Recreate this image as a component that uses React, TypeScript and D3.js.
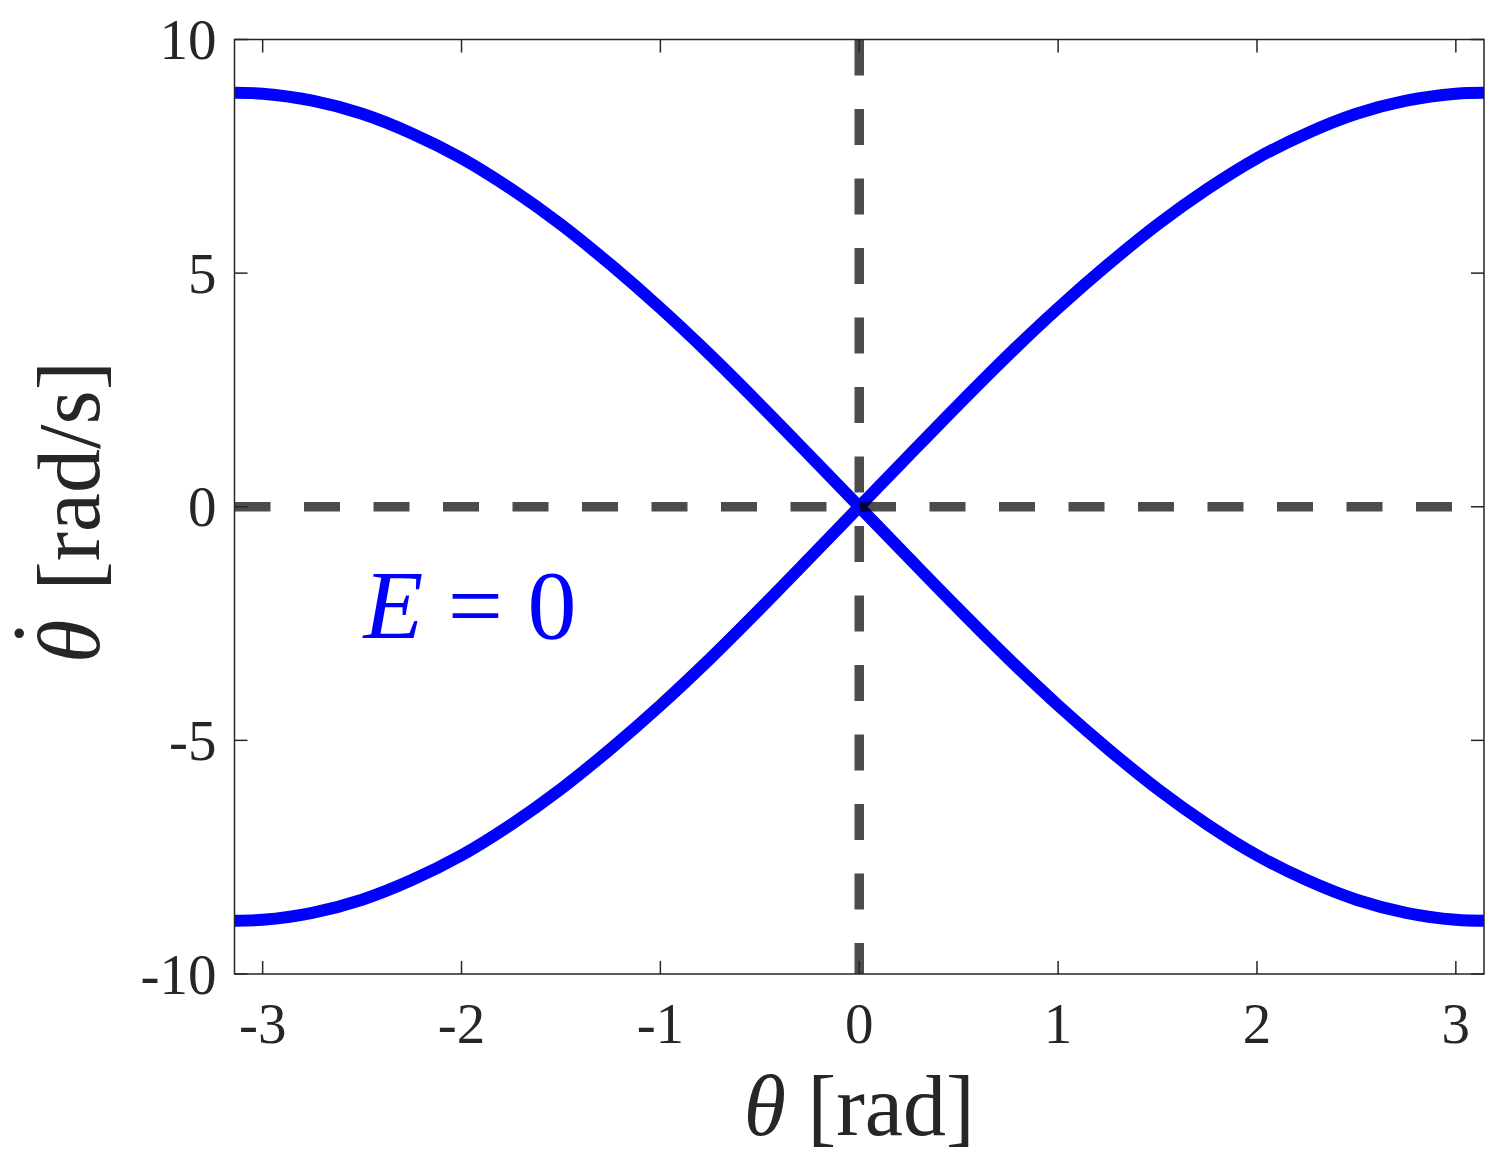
import React, { useEffect, useRef } from 'react';
import * as d3 from 'd3';

// theta [rad] sample points and the two E = 0 separatrix branches
const thetaPoints = [-3.1416, -3.0, -2.75, -2.5, -2.25, -2.0, -1.75, -1.5, -1.25, -1.0, -0.75, -0.5, -0.25, 0,
  0.25, 0.5, 0.75, 1.0, 1.25, 1.5, 1.75, 2.0, 2.25, 2.5, 2.75, 3.0, 3.1416];
const risingBranch = [-8.86, -8.84, -8.69, -8.41, -7.99, -7.46, -6.80, -6.04, -5.18, -4.25, -3.25, -2.19, -1.10, 0,
  1.10, 2.19, 3.25, 4.25, 5.18, 6.04, 6.80, 7.46, 7.99, 8.41, 8.69, 8.84, 8.86];
const fallingBranch = [8.86, 8.84, 8.69, 8.41, 7.99, 7.46, 6.80, 6.04, 5.18, 4.25, 3.25, 2.19, 1.10, 0,
  -1.10, -2.19, -3.25, -4.25, -5.18, -6.04, -6.80, -7.46, -7.99, -8.41, -8.69, -8.84, -8.86];

const xTicks = [-3, -2, -1, 0, 1, 2, 3];
const yTicks = [-10, -5, 0, 5, 10];
const xDomain = [-Math.PI, Math.PI];
const yDomain = [-10, 10];

export default function App() {
  const ref = useRef<SVGSVGElement>(null);

  useEffect(() => {
    const svg = d3.select(ref.current);
    svg.selectAll('*').remove();

    const margin = { top: 39.5, left: 234.5, right: 1484, bottom: 974 };
    const font = '"Liberation Serif", "Times New Roman", serif';
    const ink = '#262626';

    const x = d3.scaleLinear().domain(xDomain).range([margin.left, margin.right]);
    const y = d3.scaleLinear().domain(yDomain).range([margin.bottom, margin.top]);

    const plot = svg.append('g');

    const line = d3.line<number>()
      .x((_, i) => x(thetaPoints[i]))
      .y(d => y(d))
      .curve(d3.curveCatmullRom.alpha(0.5));

    [risingBranch, fallingBranch].forEach(branch => {
      plot.append('path')
        .datum(branch)
        .attr('d', line)
        .attr('fill', 'none')
        .attr('stroke', '#0000ff')
        .attr('stroke-width', 12);
    });

    // dashed reference lines
    plot.append('line')
      .attr('x1', x(xDomain[0])).attr('x2', x(xDomain[1]))
      .attr('y1', y(0)).attr('y2', y(0))
      .attr('stroke', '#000').attr('stroke-opacity', 0.7)
      .attr('stroke-width', 9.5).attr('stroke-dasharray', '36 33.5');
    plot.append('line')
      .attr('x1', x(0)).attr('x2', x(0))
      .attr('y1', y(yDomain[1])).attr('y2', y(yDomain[0]))
      .attr('stroke', '#000').attr('stroke-opacity', 0.7)
      .attr('stroke-width', 9.5).attr('stroke-dasharray', '36 33.5');

    // axes box with inward ticks on all sides
    const axisG = svg.append('g').attr('stroke', ink).attr('stroke-width', 1.5).attr('fill', 'none');
    axisG.append('rect')
      .attr('x', margin.left).attr('y', margin.top)
      .attr('width', margin.right - margin.left).attr('height', margin.bottom - margin.top);
    const tl = 13;
    xTicks.forEach(t => {
      axisG.append('line').attr('x1', x(t)).attr('x2', x(t)).attr('y1', margin.bottom).attr('y2', margin.bottom - tl);
      axisG.append('line').attr('x1', x(t)).attr('x2', x(t)).attr('y1', margin.top).attr('y2', margin.top + tl);
    });
    yTicks.forEach(t => {
      axisG.append('line').attr('x1', margin.left).attr('x2', margin.left + tl).attr('y1', y(t)).attr('y2', y(t));
      axisG.append('line').attr('x1', margin.right).attr('x2', margin.right - tl).attr('y1', y(t)).attr('y2', y(t));
    });

    // tick labels
    svg.append('g').selectAll('text').data(xTicks).join('text')
      .attr('x', d => x(d)).attr('y', margin.bottom + 69)
      .attr('text-anchor', 'middle')
      .attr('font-family', font).attr('font-size', 57).attr('fill', ink)
      .text(d => String(d));
    svg.append('g').selectAll('text').data(yTicks).join('text')
      .attr('x', margin.left - 18).attr('y', d => y(d) + 19.5)
      .attr('text-anchor', 'end')
      .attr('font-family', font).attr('font-size', 57).attr('fill', ink)
      .text(d => String(d));

    // x label
    const xl = svg.append('text')
      .attr('x', (margin.left + margin.right) / 2).attr('y', 1135)
      .attr('text-anchor', 'middle')
      .attr('font-family', font).attr('font-size', 86).attr('fill', ink);
    xl.append('tspan').attr('font-style', 'italic').text('θ');
    xl.append('tspan').text(' [rad]');

    // y label: theta with a dot placed above it
    const yl = svg.append('text')
      .attr('transform', `translate(99,512) rotate(-90)`)
      .attr('text-anchor', 'middle')
      .attr('font-family', font).attr('font-size', 88).attr('fill', ink);
    yl.append('tspan').attr('font-style', 'italic').text('θ');
    yl.append('tspan').attr('font-size', 64).attr('font-weight', 'bold')
      .attr('dx', -24).attr('dy', -40).text('˙');
    yl.append('tspan').attr('dx', 10).attr('dy', 40).text(' [rad/s]');

    // annotation
    const ann = svg.append('text')
      .attr('x', 470).attr('y', 638)
      .attr('text-anchor', 'middle')
      .attr('font-family', font).attr('font-size', 98).attr('fill', '#0000ff');
    ann.append('tspan').attr('font-style', 'italic').text('E');
    ann.append('tspan').text(' = 0');
  }, []);

  return <svg ref={ref} width={1505} height={1176} style={{ position: 'absolute', left: 0, top: 0, background: '#fff' }} />;
}
